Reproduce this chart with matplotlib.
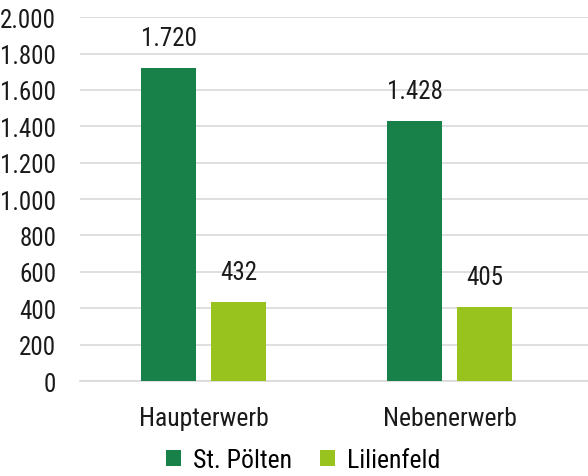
import numpy as np
import matplotlib
matplotlib.use("Agg")
import matplotlib.pyplot as plt

categories = ["Haupterwerb", "Nebenerwerb"]
series_names = ["St. Pölten", "Lilienfeld"]
st_poelten = [1720, 1428]
lilienfeld = [432, 405]
yticks = [0, 200, 400, 600, 800, 1000, 1200, 1400, 1600, 1800, 2000]

colors = ["#188049", "#98c21e"]

plt.rcParams['font.family'] = ['Roboto Condensed', 'DejaVu Sans']


def de_fmt(v):
    return "{:,}".format(int(v)).replace(",", ".")


fig = plt.figure(figsize=(5.88, 4.77), dpi=100)
ax = fig.add_axes([0.136, 0.199, 0.864, 0.763])

x = np.arange(len(categories))
w = 0.224
off = 0.142
for vals, dx, col, name in [(st_poelten, -off, colors[0], series_names[0]),
                            (lilienfeld, off, colors[1], series_names[1])]:
    bars = ax.bar(x + dx, vals, width=w, color=col, label=name, zorder=3)
    for b, v in zip(bars, vals):
        ax.text(b.get_x() + b.get_width() / 2, v + 100, de_fmt(v),
                ha="center", va="bottom", fontsize=18, color="#1a1a1a")

ax.set_ylim(0, 2000)
ax.set_xlim(-0.502, 1.563)
ax.set_yticks(yticks)
ax.set_yticklabels([de_fmt(t) for t in yticks], fontsize=18, color="#1a1a1a")
ax.set_xticks(x)
ax.set_xticklabels(categories, fontsize=18.5, color="#1a1a1a")
ax.tick_params(axis="both", length=0)
ax.tick_params(axis="y", pad=17)
ax.tick_params(axis="x", pad=18)
ax.grid(axis="y", color="#d9d9d9", linewidth=1.2, zorder=0)
for s in ["top", "right", "left"]:
    ax.spines[s].set_visible(False)
ax.spines["bottom"].set_color("#d9d9d9")
ax.spines["bottom"].set_linewidth(1.2)

fig.legend(loc="center", bbox_to_anchor=(0.515, 0.033), ncol=2, frameon=False,
           fontsize=18.5, handlelength=0.6, handleheight=0.6, handletextpad=0.45,
           columnspacing=1.1)

fig.savefig("out.png", dpi=100)
